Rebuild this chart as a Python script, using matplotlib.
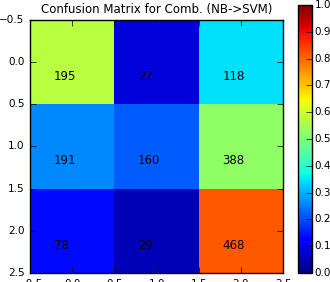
import matplotlib
matplotlib.use('Agg')
import matplotlib.pyplot as plt
import numpy as np

plt.style.use('classic')

counts = np.array([[195, 27, 118],
                   [191, 160, 388],
                   [78, 29, 468]])
title = "Confusion Matrix for Comb. (NB->SVM)"

norm = counts / counts.sum(axis=1, keepdims=True)

fig = plt.figure(figsize=(3.3, 2.82), dpi=100)
ax = fig.add_axes([0.091, 0.032, 0.767, 0.897])
cax = fig.add_axes([0.903, 0.032, 0.042, 0.95])

im = ax.imshow(norm, cmap='jet', vmin=0, vmax=1, interpolation='nearest', aspect='auto')
for i in range(counts.shape[0]):
    for j in range(counts.shape[1]):
        ax.text(j - 0.22, i + 0.17, str(counts[i, j]), ha='left', va='center', fontsize=8.5)

ax.set_title(title, fontsize=8.5)
ax.tick_params(labelsize=7.5)
ax.set_xticks(np.arange(-0.5, 2.6, 0.5))
ax.set_yticks(np.arange(-0.5, 2.6, 0.5))
ax.set_xlim(-0.5, 2.5)
ax.set_ylim(2.5, -0.5)

cb = fig.colorbar(im, cax=cax, ticks=np.arange(0, 1.01, 0.1))
cb.ax.tick_params(labelsize=7.5, pad=2)

fig.savefig('out.png', dpi=100, facecolor='white')
